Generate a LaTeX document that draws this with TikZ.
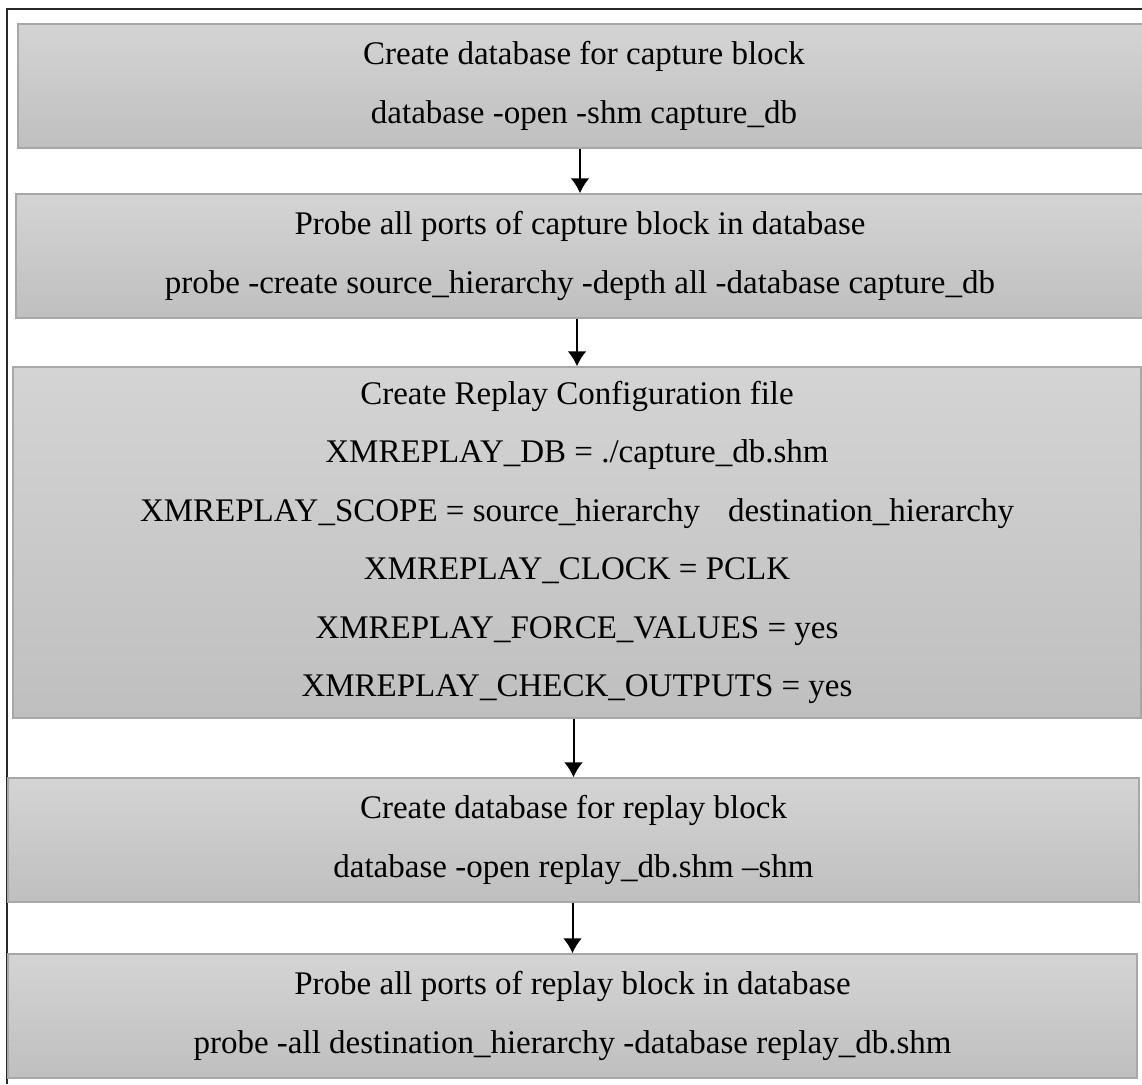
\documentclass[tikz,border=0pt]{standalone}
\usepackage{fontspec}
\setmainfont{Liberation Serif}
\usetikzlibrary{arrows.meta, calc, positioning}
\tikzset{>={Latex[length=15pt,width=19pt]}}
\definecolor{boxtop}{RGB}{212,212,212}
\definecolor{boxbot}{RGB}{191,191,191}
\definecolor{boxline}{RGB}{168,168,168}
\definecolor{framecol}{RGB}{40,40,40}
\tikzset{stepbox/.style = {draw=boxline, line width=1.5pt, rectangle, top color=boxtop, bottom color=boxbot, align=center, minimum height=124pt}}

\begin{document}
\begin{tikzpicture}[x=1pt, y=-1pt, font=\fontsize{33}{58.5}\selectfont]
  \useasboundingbox (0,0) rectangle (1142,1084);
  \clip (0,0) rectangle (1142,1084);
  \draw[framecol, line width=2pt] (1142,9) -- (7,9) -- (7,1084);
  \path (584,86) node[stepbox, minimum width=1132pt] (b1)
        {Create database for capture block\\ database -open -shm capture\_db}
      ++(-4,170) node[stepbox, minimum width=1128pt] (b2)
        {Probe all ports of capture block in database\\ probe -create source\_hierarchy -depth all -database capture\_db}
      ++(-3,286.5) node[stepbox, minimum width=1128pt, minimum height=351pt] (b3)
        {Create Replay Configuration file\\
         XMREPLAY\_DB = ./capture\_db.shm\\
         XMREPLAY\_SCOPE = source\_hierarchy\hspace{0.6em} destination\_hierarchy\\
         XMREPLAY\_CLOCK = PCLK\\
         XMREPLAY\_FORCE\_VALUES = yes\\
         XMREPLAY\_CHECK\_OUTPUTS = yes}
      ++(-3.5,297.5) node[stepbox, minimum width=1131pt] (b4)
        {Create database for replay block\\ database -open replay\_db.shm –shm}
      ++(-1,176) node[stepbox, minimum width=1129pt] (b5)
        {Probe all ports of replay block in database\\ probe -all destination\_hierarchy -database replay\_db.shm};

  \foreach \i/\o in {b1/b2, b2/b3, b3/b4, b4/b5}
  {
    \draw[->, line width=2pt] (\o.north |- \i.south) -- (\o.north);
  }
\end{tikzpicture}
\end{document}
